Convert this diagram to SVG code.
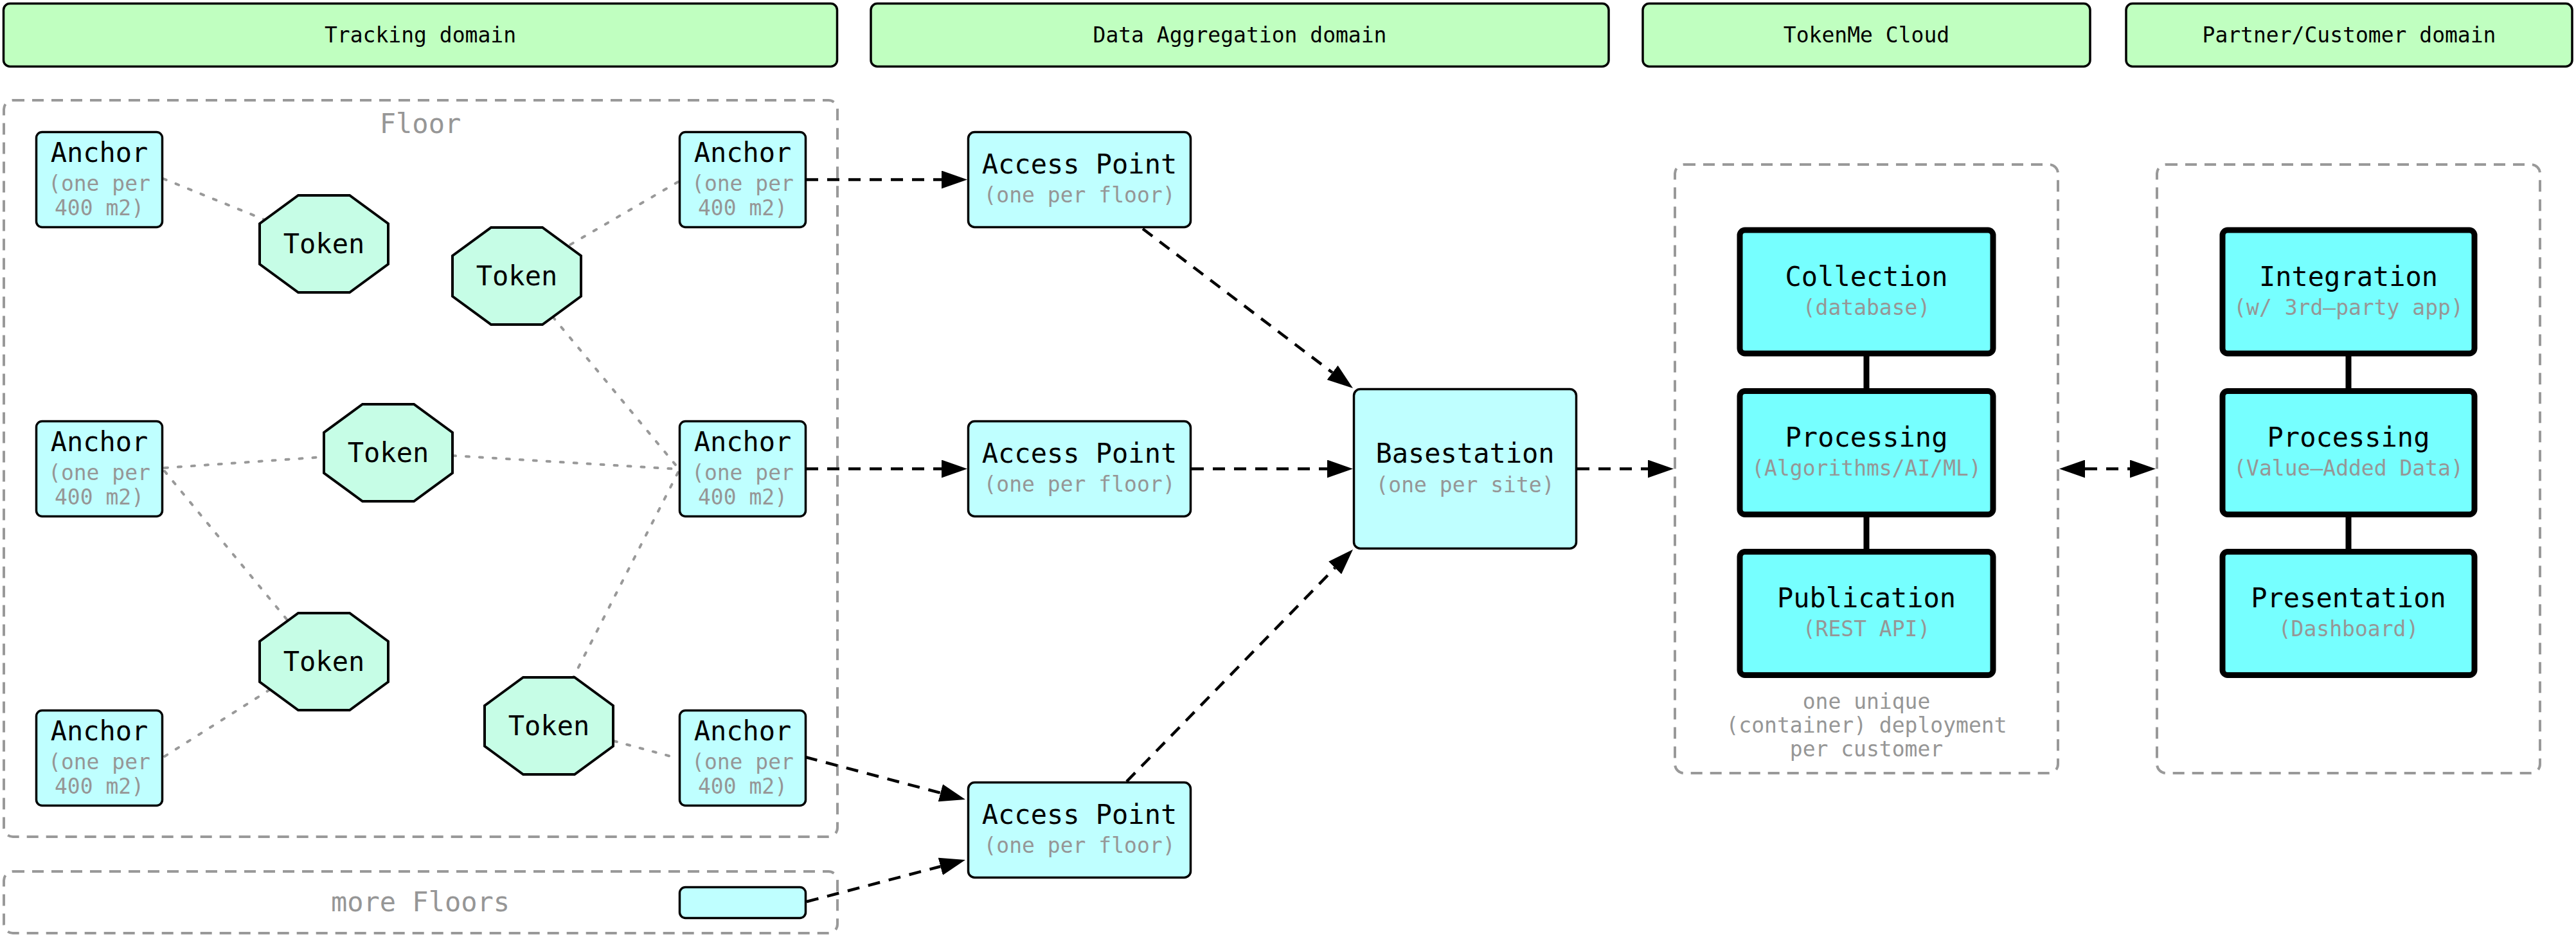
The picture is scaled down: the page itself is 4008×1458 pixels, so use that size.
<svg xmlns="http://www.w3.org/2000/svg" width="4008" height="1458" viewBox="0 0 4008 1458">
<style>
text{font-family:"DejaVu Sans Mono","Liberation Mono",monospace;text-anchor:middle}
.hdr{fill:#c0ffc0;stroke:#000;stroke-width:3.5}
.ht{font-size:33px;fill:#000}
.lt{fill:#bfffff;stroke:#000;stroke-width:3.5}
.tok{fill:#c6fde6;stroke:#000;stroke-width:4;stroke-linejoin:miter}
.cy{fill:#76ffff;stroke:#000;stroke-width:9}
.clu{fill:none;stroke:#999;stroke-width:4;stroke-dasharray:18 12}
.m{font-size:42px;fill:#000}
.s{font-size:33px;fill:#969696}
.cl{font-size:42px;fill:#969696}
.dot{fill:none;stroke:#999;stroke-width:4;stroke-dasharray:5 16;stroke-linecap:round}
.dash{fill:none;stroke:#000;stroke-width:4.5;stroke-dasharray:19 14}
.solid{fill:none;stroke:#000;stroke-width:9}
</style>
<defs>
<marker id="ah" viewBox="0 0 40 28" markerWidth="40" markerHeight="28" refX="0" refY="14" markerUnits="userSpaceOnUse" orient="auto-start-reverse">
<path d="M0,0 L40,14 L0,28 Z" fill="#000"/>
</marker>
</defs>

<g id="headers">
<g id="hdr-tracking"><rect class="hdr" x="5.5" y="5.5" width="1297" height="98" rx="10"/><text class="ht" x="654" y="66">Tracking domain</text></g>
<g id="hdr-aggregation"><rect class="hdr" x="1355" y="5.5" width="1148" height="98" rx="10"/><text class="ht" x="1929" y="66">Data Aggregation domain</text></g>
<g id="hdr-cloud"><rect class="hdr" x="2556" y="5.5" width="696" height="98" rx="10"/><text class="ht" x="2904" y="66">TokenMe Cloud</text></g>
<g id="hdr-partner"><rect class="hdr" x="3308" y="5.5" width="694" height="98" rx="10"/><text class="ht" x="3655" y="66">Partner/Customer domain</text></g>
</g>

<g id="clusters">
<g id="cluster-floor"><rect class="clu" x="6" y="156" width="1297" height="1146" rx="14"/><text class="cl" x="654" y="207">Floor</text></g>
<g id="cluster-more"><rect class="clu" x="6" y="1356" width="1297" height="96" rx="14"/><text class="cl" x="654" y="1418">more Floors</text></g>
<g id="cluster-cloud"><rect class="clu" x="2606" y="256" width="596" height="947" rx="14"/>
<text class="s" x="2904" y="1103">one unique</text>
<text class="s" x="2904" y="1140">(container) deployment</text>
<text class="s" x="2904" y="1177">per customer</text></g>
<g id="cluster-partner"><rect class="clu" x="3356" y="256" width="596" height="947" rx="14"/></g>
</g>

<g id="connectors">
<path class="dot" d="M254,278 L412,342"/>
<path class="dot" d="M1055,283 L885,382"/>
<path class="dot" d="M860,493 L1055,728"/>
<path class="dot" d="M256,728 L504,711"/>
<path class="dot" d="M704,709 L1055,730"/>
<path class="dot" d="M256,733 L448,966"/>
<path class="dot" d="M1055,735 L892,1054"/>
<path class="dot" d="M256,1177 L420,1073"/>
<path class="dot" d="M955,1153 L1055,1180"/>

<path class="dash" d="M1254,279.5 L1465,279.5" marker-end="url(#ah)"/>
<path class="dash" d="M1254,729.5 L1465,729.5" marker-end="url(#ah)"/>
<path class="dash" d="M1253,1178 L1463.3,1233.8" marker-end="url(#ah)"/>
<path class="dash" d="M1255,1403 L1463.3,1348.2" marker-end="url(#ah)"/>
<path class="dash" d="M1778,356 L2073.1,579.8" marker-end="url(#ah)"/>
<path class="dash" d="M1854,729.5 L2065,729.5" marker-end="url(#ah)"/>
<path class="dash" d="M1753,1216 L2077.1,883.6" marker-end="url(#ah)"/>
<path class="dash" d="M2454,729.5 L2564,729.5" marker-end="url(#ah)"/>
<path class="dash" d="M3244,729.5 L3314,729.5" marker-start="url(#ah)" marker-end="url(#ah)"/>

<path class="solid" d="M2904,554 L2904,604 M2904,805 L2904,854"/>
<path class="solid" d="M3654,554 L3654,604 M3654,805 L3654,854"/>
</g>

<g id="anchor-tl"><rect class="lt" x="56.5" y="205.5" width="196" height="148" rx="9"/><text class="m" x="154.5" y="252">Anchor</text><text class="s" x="154.5" y="297">(one per</text><text class="s" x="154.5" y="335">400 m2)</text></g>
<g id="anchor-tr"><rect class="lt" x="1057.5" y="205.5" width="196" height="148" rx="9"/><text class="m" x="1155.5" y="252">Anchor</text><text class="s" x="1155.5" y="297">(one per</text><text class="s" x="1155.5" y="335">400 m2)</text></g>
<g id="anchor-ml"><rect class="lt" x="56.5" y="655.5" width="196" height="148" rx="9"/><text class="m" x="154.5" y="702">Anchor</text><text class="s" x="154.5" y="747">(one per</text><text class="s" x="154.5" y="785">400 m2)</text></g>
<g id="anchor-mr"><rect class="lt" x="1057.5" y="655.5" width="196" height="148" rx="9"/><text class="m" x="1155.5" y="702">Anchor</text><text class="s" x="1155.5" y="747">(one per</text><text class="s" x="1155.5" y="785">400 m2)</text></g>
<g id="anchor-bl"><rect class="lt" x="56.5" y="1105.5" width="196" height="148" rx="9"/><text class="m" x="154.5" y="1152">Anchor</text><text class="s" x="154.5" y="1197">(one per</text><text class="s" x="154.5" y="1235">400 m2)</text></g>
<g id="anchor-br"><rect class="lt" x="1057.5" y="1105.5" width="196" height="148" rx="9"/><text class="m" x="1155.5" y="1152">Anchor</text><text class="s" x="1155.5" y="1197">(one per</text><text class="s" x="1155.5" y="1235">400 m2)</text></g>
<g id="more-floor-node"><rect class="lt" x="1057.5" y="1380.5" width="196" height="48" rx="9"/></g>

<g id="token-1"><polygon class="tok" points="464,304 544,304 604,348 604,411 544,455 464,455 404,411 404,348"/><text class="m" x="504" y="394">Token</text></g>
<g id="token-2"><polygon class="tok" points="764,354 844,354 904,398 904,461 844,505 764,505 704,461 704,398"/><text class="m" x="804" y="444">Token</text></g>
<g id="token-3"><polygon class="tok" points="564,629 644,629 704,673 704,736 644,780 564,780 504,736 504,673"/><text class="m" x="604" y="719">Token</text></g>
<g id="token-4"><polygon class="tok" points="464,954 544,954 604,998 604,1061 544,1105 464,1105 404,1061 404,998"/><text class="m" x="504" y="1044">Token</text></g>
<g id="token-5"><polygon class="tok" points="814,1054 894,1054 954,1098 954,1161 894,1205 814,1205 754,1161 754,1098"/><text class="m" x="854" y="1144">Token</text></g>

<g id="ap-1"><rect class="lt" x="1506.5" y="205.5" width="346" height="148" rx="10"/><text class="m" x="1679.5" y="270">Access Point</text><text class="s" x="1679.5" y="315">(one per floor)</text></g>
<g id="ap-2"><rect class="lt" x="1506.5" y="655.5" width="346" height="148" rx="10"/><text class="m" x="1679.5" y="720">Access Point</text><text class="s" x="1679.5" y="765">(one per floor)</text></g>
<g id="ap-3"><rect class="lt" x="1506.5" y="1217.5" width="346" height="148" rx="10"/><text class="m" x="1679.5" y="1282">Access Point</text><text class="s" x="1679.5" y="1327">(one per floor)</text></g>
<g id="basestation"><rect class="lt" x="2106.5" y="605.5" width="346" height="248" rx="10"/><text class="m" x="2279.5" y="720">Basestation</text><text class="s" x="2279.5" y="766">(one per site)</text></g>

<g id="collection"><rect class="cy" x="2707" y="358" width="394" height="192" rx="8"/><text class="m" x="2904" y="445">Collection</text><text class="s" x="2904" y="490">(database)</text></g>
<g id="processing-cloud"><rect class="cy" x="2707" y="608.5" width="394" height="192" rx="8"/><text class="m" x="2904" y="695">Processing</text><text class="s" x="2904" y="740">(Algorithms/AI/ML)</text></g>
<g id="publication"><rect class="cy" x="2707" y="858.5" width="394" height="192" rx="8"/><text class="m" x="2904" y="945">Publication</text><text class="s" x="2904" y="990">(REST API)</text></g>
<g id="integration"><rect class="cy" x="3458" y="358" width="392" height="192" rx="8"/><text class="m" x="3654" y="445">Integration</text><text class="s" x="3654" y="490">(w/ 3rd–party app)</text></g>
<g id="processing-partner"><rect class="cy" x="3458" y="608.5" width="392" height="192" rx="8"/><text class="m" x="3654" y="695">Processing</text><text class="s" x="3654" y="740">(Value–Added Data)</text></g>
<g id="presentation"><rect class="cy" x="3458" y="858.5" width="392" height="192" rx="8"/><text class="m" x="3654" y="945">Presentation</text><text class="s" x="3654" y="990">(Dashboard)</text></g>
</svg>
